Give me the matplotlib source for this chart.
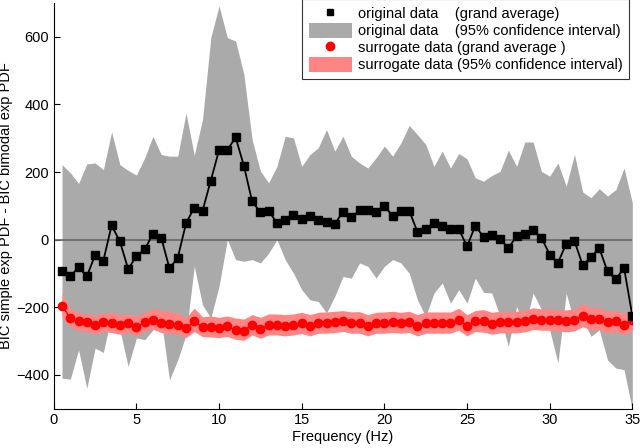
import numpy as np
import matplotlib
matplotlib.use("Agg")
import matplotlib.pyplot as plt
from matplotlib.patches import Patch

plt.rcParams['font.family'] = ['Liberation Sans', 'DejaVu Sans']

freq = np.arange(0.5, 35.01, 0.5)

orig_mean = [-94, -109, -81, -109, -46, -62, 42, -5, -87, -49,
             -29, 17, 6, -85, -54, 48, 95, 85, 175, 265,
             265, 303, 219, 113, 81, 86, 49, 59, 74, 62,
             69, 59, 53, 46, 83, 66, 87, 89, 83, 101,
             69, 86, 86, 23, 32, 49, 40, 32, 32, -20,
             41, 8, 15, 2, -25, 10, 18, 28, 6, -44,
             -69, -12, -4, -76, -52, -25, -94, -117, -84, -225]

orig_upper = [222, 198, 166, 224, 227, 207, 319, 222, 205, 191,
              242, 306, 252, 247, 247, 375, 250, 356, 598, 692,
              598, 588, 489, 296, 203, 168, 217, 306, 301, 217,
              252, 272, 326, 262, 306, 247, 227, 212, 242, 277,
              247, 286, 338, 311, 282, 217, 262, 212, 255, 239,
              183, 173, 190, 202, 265, 217, 289, 289, 202, 188,
              227, 158, 252, 141, 124, 151, 129, 148, 212, 109]

orig_lower = [-410, -413, -326, -440, -321, -334, -222, -267, -375, -291,
              -296, -267, -237, -415, -356, -282, -79, -193, -232, -138,
              0, -59, -64, -59, -69, -40, 0, -59, -99, -148,
              -178, -183, -217, -168, -109, -114, -69, -79, -114, -79,
              -59, -69, -99, -178, -227, -158, -128, -188, -148, -188,
              -114, -156, -158, -227, -316, -198, -257, -158, -207, -267,
              -365, -158, -247, -237, -286, -267, -356, -380, -385, -504]

surr_mean = [-196, -232, -242, -245, -252, -245, -247, -252, -247, -259,
             -245, -237, -247, -249, -252, -262, -242, -259, -259, -262,
             -257, -267, -269, -252, -265, -252, -252, -255, -252, -247,
             -255, -247, -247, -245, -242, -247, -247, -255, -247, -247,
             -245, -247, -245, -255, -247, -247, -247, -247, -237, -255,
             -242, -242, -249, -245, -245, -245, -242, -235, -237, -237,
             -239, -242, -239, -225, -235, -235, -245, -242, -252, -237]

surr_upper = [-158, -205, -215, -220, -222, -218, -215, -222, -220, -225,
              -215, -203, -210, -212, -218, -230, -203, -228, -226, -230,
              -226, -232, -235, -222, -230, -220, -220, -222, -220, -215,
              -222, -215, -214, -212, -210, -214, -213, -222, -215, -214,
              -212, -215, -212, -222, -214, -214, -214, -214, -203, -222,
              -210, -207, -215, -212, -212, -212, -208, -202, -205, -205,
              -207, -208, -205, -190, -200, -202, -212, -210, -218, -207]

surr_lower = [-230, -258, -270, -272, -278, -272, -275, -280, -275, -285,
              -272, -265, -275, -277, -280, -290, -272, -287, -288, -290,
              -286, -295, -298, -282, -292, -282, -282, -285, -282, -278,
              -285, -277, -277, -275, -272, -277, -277, -285, -277, -277,
              -275, -277, -275, -285, -277, -277, -277, -277, -268, -285,
              -272, -274, -280, -276, -276, -276, -273, -266, -268, -268,
              -270, -273, -270, -258, -266, -266, -276, -273, -282, -268]

grey = '#aaaaaa'
pink = '#ff8585'

fig = plt.figure(figsize=(6.4, 4.48), dpi=100)
ax = fig.add_axes([0.084, 0.088, 0.904, 0.905])

ax.fill_between(freq, orig_lower, orig_upper, color=grey, linewidth=0)
ax.axhline(0, color='#666666', linewidth=1.2)
ax.fill_between(freq, surr_lower, surr_upper, color=pink, linewidth=0)
ax.plot(freq, surr_mean, color='#ff0000', linewidth=1)
ax.plot(freq, surr_mean, 'o', color='#ff0000', markersize=6, linestyle='none')
ax.plot(freq, orig_mean, color='black', linewidth=1.3)
ax.plot(freq, orig_mean, 's', color='black', markersize=5.5, linestyle='none')

ax.set_xlim(0, 35)
ax.set_ylim(-500, 700)
ax.set_xticks([0, 5, 10, 15, 20, 25, 30, 35])
ax.set_yticks([-400, -200, 0, 200, 400, 600])
ax.tick_params(direction='in', labelsize=10.5, length=4)
ax.spines['top'].set_visible(False)
ax.spines['right'].set_visible(False)
ax.set_xlabel('Frequency (Hz)', fontsize=10.5, labelpad=2)
ax.set_ylabel('BIC simple exp PDF - BIC bimodal exp PDF', fontsize=10.5, labelpad=2)

# proxies so the legend shows plain markers and tall colour blocks
h_mean = plt.Line2D([], [], marker='s', color='black', markersize=5, linestyle='none')
h_smean = plt.Line2D([], [], marker='o', color='#ff0000', markersize=6, linestyle='none')
h_band = Patch(facecolor=grey, edgecolor='none')
h_sband = Patch(facecolor=pink, edgecolor='none')

leg = ax.legend([h_mean, h_band, h_smean, h_sband],
                ['original data    (grand average)',
                 'original data    (95% confidence interval)',
                 'surrogate data (grand average )',
                 'surrogate data (95% confidence interval)'],
                loc='upper right', bbox_to_anchor=(0.995, 1.01), fontsize=10.5,
                frameon=True, fancybox=False, edgecolor='black',
                borderpad=0.45, labelspacing=0.1, handlelength=3.0, handleheight=1.25,
                handletextpad=0.4, borderaxespad=0.0)
leg.get_frame().set_linewidth(0.8)

fig.savefig('out.png', dpi=100)
